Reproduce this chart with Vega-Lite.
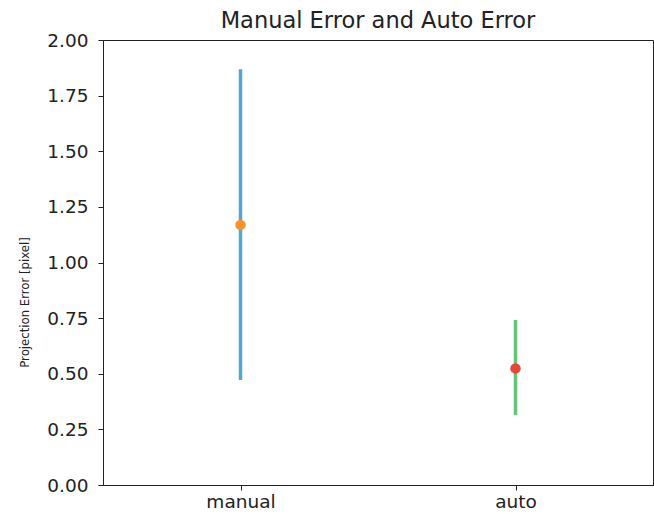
{
  "$schema": "https://vega.github.io/schema/vega-lite/v6.json",
  "width": 550,
  "height": 445,
  "autosize": "none",
  "padding": {"left": 103, "top": 40, "right": 1, "bottom": 29},
  "background": "white",
  "title": {"text": "Manual Error and Auto Error", "font": "DejaVu Sans", "fontSize": 22.5, "fontWeight": "normal", "color": "#222", "offset": -1},
  "config": {
    "view": {"stroke": "#222", "strokeWidth": 1},
    "axis": {"grid": false, "domainColor": "#222", "tickColor": "#222", "labelFont": "DejaVu Sans", "labelFontSize": 18.5, "labelColor": "#222", "tickSize": 5}
  },
  "data": {"values": [
    {"method": "manual", "mean": 1.169, "lo": 0.472, "hi": 1.868},
    {"method": "auto", "mean": 0.524, "lo": 0.315, "hi": 0.742}
  ]},
  "encoding": {
    "x": {"field": "method", "type": "nominal", "sort": ["manual", "auto"], "scale": {"type": "point", "padding": 0.5}, "axis": {"title": null, "labelAngle": 0, "labelPadding": 2}}
  },
  "layer": [
    {
      "mark": {"type": "rule", "strokeWidth": 3.5},
      "encoding": {
        "y": {"field": "lo", "type": "quantitative", "scale": {"domain": [0, 2], "nice": false}, "axis": {"title": "Projection Error [pixel]", "titleFont": "DejaVu Sans Condensed", "titleFontSize": 13, "titleFontWeight": "normal", "titleColor": "#222", "values": [0, 0.25, 0.5, 0.75, 1, 1.25, 1.5, 1.75, 2], "format": ".2f", "labelPadding": 10, "titleX": -79, "titleY": 262, "titleAngle": -90, "titleBaseline": "middle", "titleAlign": "center"}},
        "y2": {"field": "hi"},
        "color": {"field": "method", "type": "nominal", "scale": {"domain": ["manual", "auto"], "range": ["#52a7d4", "#66c27a"]}, "legend": null}
      }
    },
    {
      "mark": {"type": "point", "filled": true, "size": 110, "opacity": 1},
      "encoding": {
        "y": {"field": "mean", "type": "quantitative"},
        "color": {"field": "method", "type": "nominal", "scale": {"domain": ["manual", "auto"], "range": ["#fb9227", "#e8453c"]}, "legend": null}
      }
    }
  ],
  "resolve": {"scale": {"color": "independent"}}
}
